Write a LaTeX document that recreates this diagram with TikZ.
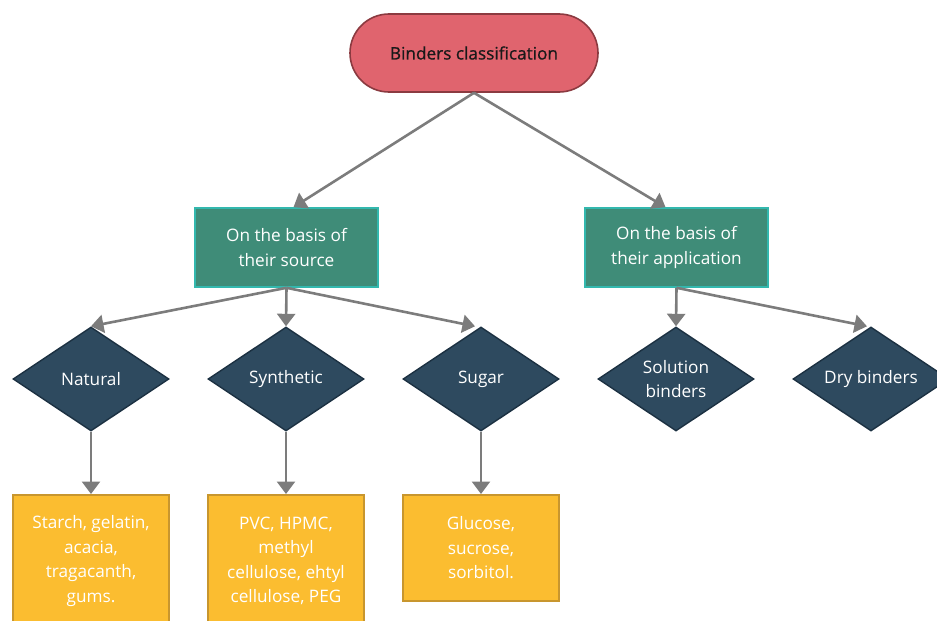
\documentclass[tikz,border=0pt]{standalone}
\usepackage{fontspec}
\setmainfont{Open Sans}
\newfontfamily\rootfont[FakeBold=0.8]{Open Sans}
\usetikzlibrary{shapes.geometric,arrows.meta}

\definecolor{rootfill}{HTML}{E0646E}
\definecolor{rootline}{HTML}{8B3A40}
\definecolor{basisfill}{HTML}{3F8C78}
\definecolor{basisline}{HTML}{33B8AE}
\definecolor{typefill}{HTML}{2E4A5F}
\definecolor{typeline}{HTML}{1C3142}
\definecolor{listfill}{HTML}{FBBD30}
\definecolor{listline}{HTML}{C8962E}
\definecolor{linkgray}{HTML}{7C7C7C}

\tikzset{
  label font/.style={font=\fontsize{17.2}{24.4}\selectfont},
  rootbox/.style={draw=rootline, fill=rootfill, line width=1.6pt,
    rounded corners=39pt, minimum width=248pt, minimum height=78pt,
    inner sep=0pt, font=\rootfont\fontsize{17.2}{24.4}\selectfont,
    text=black!90},
  basisbox/.style={draw=basisline, fill=basisfill, line width=1.6pt,
    minimum width=183pt, minimum height=79pt, inner sep=0pt,
    align=center, text=white, label font},
  typebox/.style={diamond, aspect=1.5, draw=typeline, fill=typefill,
    line width=1.4pt, minimum width=156pt, minimum height=104pt,
    inner sep=0pt, align=center, text=white, label font},
  listbox/.style={draw=listline, fill=listfill, line width=1.6pt,
    minimum width=156pt, inner sep=0pt, align=center, text=white,
    label font},
  listtext/.style={text=white, align=center, inner sep=0pt, label font},
  link/.style={draw=linkgray, line width=2.6pt,
    -{Triangle[width=18pt,length=12.5pt]}}
}

\begin{document}
\begin{tikzpicture}[x=1pt,y=-1pt]
  \useasboundingbox (0,0) rectangle (937,621);
  \clip (0,0) rectangle (937,621);

  % root
  \node[rootbox] (root) at (474,53) {Binders classification};

  % classification bases
  \node[basisbox] (src) at (286.5,247.5) {On the basis of\\their source};
  \node[basisbox] (app) at (676.5,247.5) {On the basis of\\their application};

  % binder types
  \node[typebox] (nat) at (91,379)  {Natural};
  \node[typebox] (syn) at (286,379) {Synthetic};
  \node[typebox] (sug) at (481,379) {Sugar};
  \node[typebox] (sol) at (676,379) {Solution\\binders};
  \node[typebox] (dry) at (871,379) {Dry binders};

  % examples
  \node[listbox, minimum height=140pt, anchor=north] (natx) at (91,494) {};
  \node[listtext] (natt) at (91,561)
    {Starch, gelatin,\\acacia,\\tragacanth,\\gums.};
  \node[listbox, minimum height=140pt, anchor=north] (synx) at (286,494) {};
  \node[listtext] (synt) at (286,561)
    {PVC, HPMC,\\methyl\\cellulose, ehtyl\\cellulose, PEG};
  \node[listbox, minimum height=106pt, anchor=north] (sugx) at (481,494)
    {Glucose,\\sucrose,\\sorbitol.};

  % connectors
  \draw[link] (root.south) -- ([xshift=7pt]src.north);
  \draw[link] (root.south) -- ([xshift=-11pt]app.north);

  \draw[link] (src.south) -- (nat.north);
  \draw[link] (src.south) -- (syn.north);
  \draw[link] (src.south) -- ([xshift=-6pt]sug.north);
  \draw[link] (app.south) -- (sol.north);
  \draw[link] (app.south) -- ([xshift=-4pt]dry.north);

  \draw[link] (nat.south) -- (natx.north);
  \draw[link] (syn.south) -- (synx.north);
  \draw[link] (sug.south) -- (sugx.north);
\end{tikzpicture}
\end{document}
